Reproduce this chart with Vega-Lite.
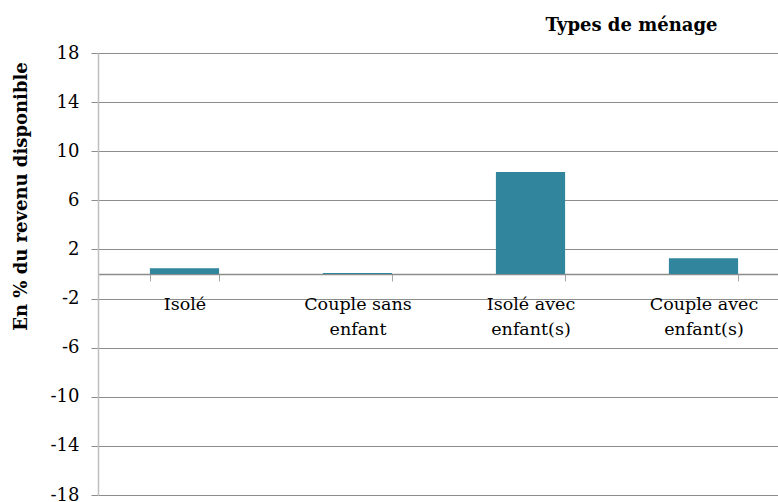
{
  "$schema": "https://vega.github.io/schema/vega-lite/v6.json",
  "width": 692,
  "height": 442,
  "autosize": {"type": "none"},
  "padding": {"left": 98, "top": 53, "right": 0, "bottom": 7},
  "background": "white",
  "config": {"view": {"stroke": null}},
  "data": {
    "values": [
      {"type": "Isolé", "value": 0.47},
      {"type": "Couple sans enfant", "value": 0.08},
      {"type": "Isolé avec enfant(s)", "value": 8.3},
      {"type": "Couple avec enfant(s)", "value": 1.28}
    ]
  },
  "mark": {"type": "bar", "color": "#31859c"},
  "encoding": {
    "x": {
      "field": "type",
      "type": "nominal",
      "sort": null,
      "scale": {"paddingInner": 0.6, "paddingOuter": 0.3},
      "axis": {
        "title": "Types de ménage",
        "titleFont": "DejaVu Serif",
        "titleFontSize": 18,
        "titleFontWeight": "bold",
        "titleColor": "#000000",
        "titleX": 533,
        "titleY": -249,
        "titleAlign": "center",
        "titleBaseline": "middle",
        "offset": -221,
        "labelAngle": 0,
        "labelFont": "DejaVu Serif",
        "labelFontSize": 17.5,
        "labelColor": "#000000",
        "labelLineHeight": 25,
        "labelBaseline": "top",
        "labelPadding": 14,
        "labelExpr": "indexof(datum.label, ' ') > 0 ? [substring(datum.label, 0, lastindexof(datum.label, ' ')), substring(datum.label, lastindexof(datum.label, ' ') + 1)] : datum.label",
        "tickBand": "extent",
        "tickSize": 7,
        "tickColor": "#a6a6a6",
        "domainColor": "#8c8c8c",
        "domainWidth": 1.3,
        "grid": false
      }
    },
    "y": {
      "field": "value",
      "type": "quantitative",
      "scale": {"domain": [-18, 18], "nice": false, "zero": false},
      "axis": {
        "values": [-18, -14, -10, -6, -2, 2, 6, 10, 14, 18],
        "labelExpr": "replace(datum.label, '−', '-')",
        "title": "En % du revenu disponible",
        "titleFont": "DejaVu Serif",
        "titleFontSize": 18,
        "titleFontWeight": "bold",
        "titleColor": "#000000",
        "titleAngle": -90,
        "titleX": -77,
        "titleY": 143,
        "titleAlign": "center",
        "titleBaseline": "middle",
        "labelFont": "DejaVu Serif",
        "labelFontSize": 18,
        "labelColor": "#000000",
        "labelPadding": 12,
        "tickSize": 7,
        "tickColor": "#8c8c8c",
        "domainColor": "#bfbfbf",
        "domainWidth": 1.5,
        "grid": true,
        "gridColor": "#8c8c8c",
        "gridWidth": 1
      }
    }
  }
}
